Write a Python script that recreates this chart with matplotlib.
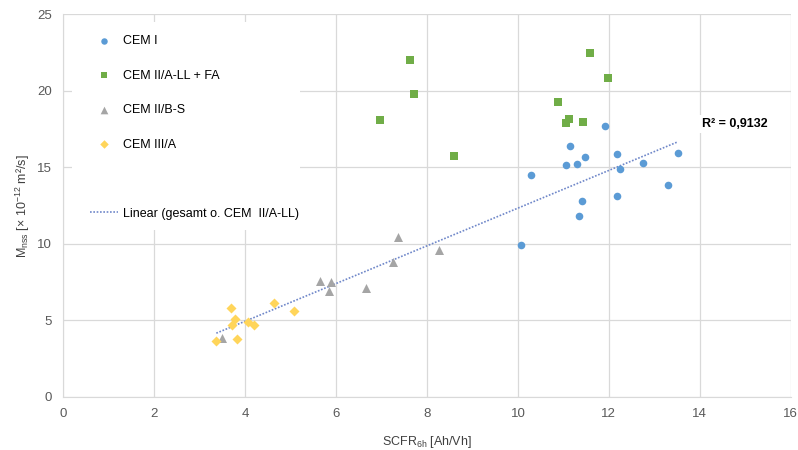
import numpy as np
import matplotlib.pyplot as plt
from matplotlib.patches import Rectangle

plt.rcParams.update({
    "font.family": ["Liberation Sans", "DejaVu Sans"],
    "font.size": 9,
})

# CEM I
cem1_x = [10.07, 10.29, 11.05, 11.14, 11.30, 11.47, 11.40, 11.34, 11.91,
          12.18, 12.24, 12.18, 12.75, 13.30, 13.52]
cem1_y = [9.93, 14.50, 15.16, 16.40, 15.25, 15.70, 12.80, 11.80, 17.70,
          15.90, 14.90, 13.10, 15.30, 13.86, 15.95]

# CEM II/A-LL + FA
cem2a_x = [7.63, 7.71, 6.97, 8.59, 10.89, 11.12, 11.05, 11.44, 11.58, 11.98]
cem2a_y = [22.00, 19.82, 18.10, 15.75, 19.26, 18.15, 17.90, 17.95, 22.50, 20.83]

# CEM II/B-S
cem2b_x = [7.36, 8.27, 7.26, 5.66, 5.90, 5.85, 6.65, 3.49]
cem2b_y = [10.44, 9.60, 8.82, 7.56, 7.50, 6.93, 7.12, 3.84]

# CEM III/A
cem3_x = [3.69, 3.79, 3.72, 4.07, 4.20, 3.82, 3.37, 4.64, 5.07]
cem3_y = [5.80, 5.12, 4.69, 4.92, 4.69, 3.81, 3.68, 6.12, 5.60]

r2_text = "R² = 0,9132"

fig = plt.figure(figsize=(7.98, 4.5), dpi=100)
ax = fig.add_axes([0.079, 0.118, 0.912, 0.85])

ax.scatter(cem1_x, cem1_y, s=30, marker="o", color="#5B9BD5", zorder=4,
           label="CEM I", linewidths=0)
ax.scatter(cem2a_x, cem2a_y, s=28, marker="s", color="#70AD47", zorder=4,
           label="CEM II/A-LL + FA", linewidths=0)
ax.scatter(cem2b_x, cem2b_y, s=42, marker="^", color="#A5A5A5", zorder=4,
           label="CEM II/B-S", linewidths=0)
ax.scatter(cem3_x, cem3_y, s=26, marker="D", color="#FFD55A", zorder=4,
           label="CEM III/A", linewidths=0)

# linear trend over all series except CEM II/A-LL
tx = np.array(cem1_x + cem2b_x + cem3_x)
ty = np.array(cem1_y + cem2b_y + cem3_y)
k, d = np.polyfit(tx, ty, 1)
xx = np.array([tx.min(), tx.max()])
ax.plot([], [], " ", label=" ")
ax.plot(xx, k * xx + d, linestyle=(0, (1, 1)), color="#6F87C9", lw=1.2,
        zorder=3, label="Linear (gesamt o. CEM  II/A-LL)")

ax.text(14.05, 17.85, r2_text, fontsize=9, fontweight="bold", ha="left",
        va="center", color="#000000",
        bbox=dict(facecolor="white", edgecolor="none", pad=2), zorder=5)

ax.set_xlim(0, 16)
ax.set_ylim(0, 25)
ax.set_xticks(range(0, 17, 2))
ax.set_yticks(range(0, 26, 5))
ax.grid(True, color="#D9D9D9", lw=0.9, zorder=0)
ax.set_axisbelow(True)
for s in ["top", "right"]:
    ax.spines[s].set_visible(False)
for s in ["left", "bottom"]:
    ax.spines[s].set_color("#D9D9D9")
ax.tick_params(length=0, labelsize=9.5, colors="#595959", pad=8)

ax.set_xlabel(r"SCFR$_{\mathregular{6h}}$ [Ah/Vh]", fontsize=9, color="#404040",
              labelpad=10)
ax.set_ylabel(r"M$_{\mathregular{nss}}$ [× 10$^{\mathregular{-12}}$ m²/s]",
              fontsize=9, color="#404040", labelpad=4)

# white legend area
ax.add_patch(Rectangle((0.012, 0.437), 0.314, 0.543, transform=ax.transAxes,
                       facecolor="white", edgecolor="none", zorder=2))
leg = ax.legend(loc="upper left", bbox_to_anchor=(0.022, 0.975), frameon=False,
                handlelength=2.2, handletextpad=0.45, labelspacing=1.8,
                fontsize=9, markerscale=0.85)
leg.set_zorder(6)

fig.savefig("out.png", dpi=100)
